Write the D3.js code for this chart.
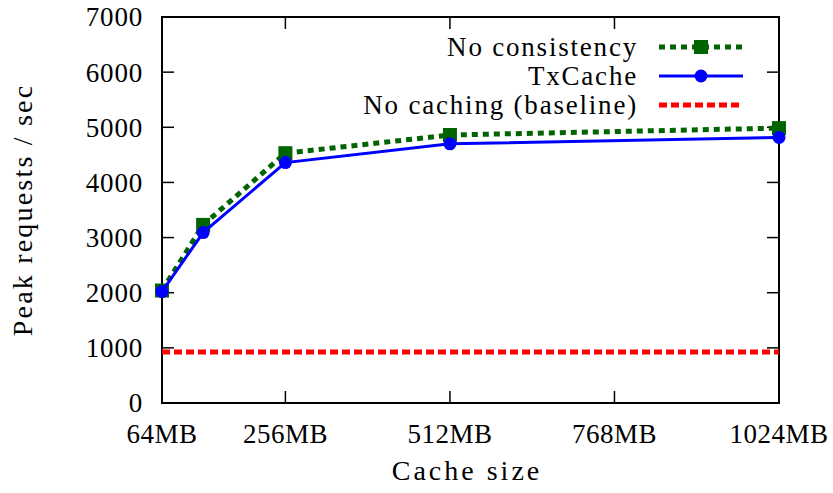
<!DOCTYPE html>
<html>
<head>
<meta charset="utf-8">
<script src="https://cdn.jsdelivr.net/npm/d3@7"></script>
<style>
  body { margin: 0; background: #fff; }
</style>
</head>
<body>
<div id="chart"><svg width="833" height="493"></svg></div>
<script>
const cacheSizes = [64, 128, 256, 512, 1024];
const noConsistency = [2040, 3230, 4530, 4860, 4985];
const txCache = [2020, 3090, 4360, 4700, 4815];
const baseline = [925, 925, 925, 925, 925];
const xTicks = [64, 256, 512, 768, 1024];
const yTicks = [0, 1000, 2000, 3000, 4000, 5000, 6000, 7000];
const seriesNames = ['No consistency', 'TxCache', 'No caching (baseline)'];

const fontFamily = "'Liberation Serif', 'Times New Roman', Times, 'DejaVu Serif', serif";
const margin = { top: 17, right: 54, bottom: 90, left: 162 };
const width = 833, height = 493;
const svg = d3.select('#chart svg').attr('font-family', fontFamily);

const x = d3.scaleLinear().domain([64, 1024]).range([margin.left, width - margin.right]);
const y = d3.scaleLinear().domain([0, 7000]).range([height - margin.bottom, margin.top]);
const tickLen = 12;

const gAxes = svg.append('g');   // frame and ticks
const gLines = svg.append('g');  // data
const gLegend = svg.append('g'); // legend

// ticks on all four sides, pointing inward
gAxes.selectAll('.ytl').data(yTicks).enter().append('line')
    .attr('x1', x(64)).attr('x2', x(64) + tickLen)
    .attr('y1', d => y(d)).attr('y2', d => y(d))
    .attr('stroke', '#000').attr('stroke-width', 1.5);
gAxes.selectAll('.ytr').data(yTicks).enter().append('line')
    .attr('x1', x(1024)).attr('x2', x(1024) - tickLen)
    .attr('y1', d => y(d)).attr('y2', d => y(d))
    .attr('stroke', '#000').attr('stroke-width', 1.5);
gAxes.selectAll('.xtb').data(xTicks).enter().append('line')
    .attr('x1', d => x(d)).attr('x2', d => x(d))
    .attr('y1', y(0)).attr('y2', y(0) - tickLen)
    .attr('stroke', '#000').attr('stroke-width', 1.5);
gAxes.selectAll('.xtt').data(xTicks).enter().append('line')
    .attr('x1', d => x(d)).attr('x2', d => x(d))
    .attr('y1', y(7000)).attr('y2', y(7000) + tickLen)
    .attr('stroke', '#000').attr('stroke-width', 1.5);

gAxes.append('rect')
    .attr('x', x(64)).attr('y', y(7000))
    .attr('width', x(1024) - x(64)).attr('height', y(0) - y(7000))
    .attr('fill', 'none').attr('stroke', '#000').attr('stroke-width', 2);

// tick labels
gAxes.selectAll('.ylab').data(yTicks).enter().append('text')
    .attr('x', x(64) - 19).attr('y', d => y(d))
    .attr('dy', '0.35em').attr('text-anchor', 'end')
    .style('font-size', '27px').style('letter-spacing', '0.8px')
    .text(d => d);
gAxes.selectAll('.xlab').data(xTicks).enter().append('text')
    .attr('x', d => x(d)).attr('y', 443)
    .attr('text-anchor', 'middle')
    .style('font-size', '27px').style('letter-spacing', '0.5px')
    .text(d => d + 'MB');

// axis titles
svg.append('text')
    .attr('x', 467).attr('y', 480)
    .attr('text-anchor', 'middle')
    .style('font-size', '28px').style('letter-spacing', '3px')
    .text('Cache size');
svg.append('text')
    .attr('transform', `translate(32, ${(y(0) + y(7000)) / 2}) rotate(-90)`)
    .attr('text-anchor', 'middle')
    .style('font-size', '28px').style('letter-spacing', '2.2px')
    .text('Peak requests / sec');

const line = d3.line().x(d => x(d[0])).y(d => y(d[1]));
const styles = [
    { color: '#006400', width: 5, dash: '6,5' },
    { color: '#0000ff', width: 3, dash: null },
    { color: '#ff0000', width: 5, dash: '8,4' }
];
const series = [noConsistency, txCache, baseline];

series.forEach((vals, i) => {
    const pts = cacheSizes.map((c, j) => [c, vals[j]]);
    const path = gLines.append('path')
        .attr('d', line(pts))
        .attr('fill', 'none')
        .attr('stroke', styles[i].color)
        .attr('stroke-width', styles[i].width);
    if (styles[i].dash) path.attr('stroke-dasharray', styles[i].dash);
    if (i === 0) {
        gLines.selectAll('.sq').data(pts).enter().append('rect')
            .attr('x', d => x(d[0]) - 7).attr('y', d => y(d[1]) - 7)
            .attr('width', 14).attr('height', 14)
            .attr('fill', styles[i].color);
    } else if (i === 1) {
        gLines.selectAll('.ci').data(pts).enter().append('circle')
            .attr('cx', d => x(d[0])).attr('cy', d => y(d[1]))
            .attr('r', 6.5).attr('fill', styles[i].color);
    }
});

// legend
const legendY = [47, 76, 105];
seriesNames.forEach((name, i) => {
    const ly = legendY[i];
    gLegend.append('text')
        .attr('x', 638).attr('y', ly).attr('dy', '0.33em')
        .attr('text-anchor', 'end')
        .style('font-size', '27px').style('letter-spacing', '1.8px')
        .text(name);
    const l = gLegend.append('line')
        .attr('x1', 659).attr('x2', 743).attr('y1', ly).attr('y2', ly)
        .attr('stroke', styles[i].color).attr('stroke-width', styles[i].width);
    if (styles[i].dash) l.attr('stroke-dasharray', styles[i].dash);
    if (i === 0) {
        gLegend.append('rect').attr('x', 694).attr('y', ly - 7)
            .attr('width', 14).attr('height', 14).attr('fill', styles[i].color);
    } else if (i === 1) {
        gLegend.append('circle').attr('cx', 701).attr('cy', ly)
            .attr('r', 6.5).attr('fill', styles[i].color);
    }
});
</script>
</body>
</html>
